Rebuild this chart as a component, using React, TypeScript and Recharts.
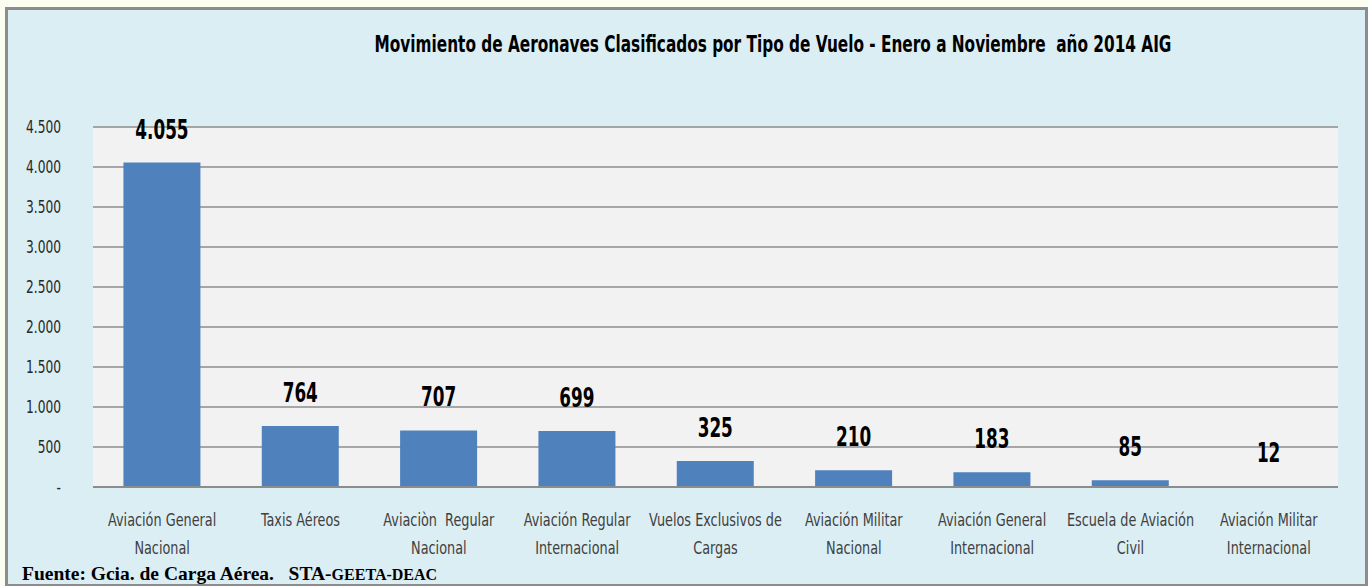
import React from 'react'
import { BarChart, Bar, XAxis, YAxis, CartesianGrid, LabelList } from 'recharts'

const categories = [
    'Aviación General\nNacional',
    'Taxis Aéreos',
    'Aviaciòn  Regular\nNacional',
    'Aviación Regular\nInternacional',
    'Vuelos Exclusivos de\nCargas',
    'Aviación Militar\nNacional',
    'Aviación General\nInternacional',
    'Escuela de Aviación\nCivil',
    'Aviación Militar\nInternacional',
]
const movements = [4055, 764, 707, 699, 325, 210, 183, 85, 12]
const yTicks = [0, 500, 1000, 1500, 2000, 2500, 3000, 3500, 4000, 4500]

const title = 'Movimiento de Aeronaves Clasificados por Tipo de Vuelo - Enero a Noviembre  año 2014 AIG'

const data = categories.map((name, i) => ({ name, value: movements[i] }))

const narrow = '"DejaVu Sans Condensed", "Liberation Sans", sans-serif'

const fmt = (v: number) => (v === 0 ? '-' : String(v).replace(/\B(?=(\d{3})+(?!\d))/g, '.'))

// squeeze text horizontally around x to mimic a narrow font
const squeeze = (x: number, k: number) => `translate(${x},0) scale(${k},1) translate(${-x},0)`

function CategoryTick(props: any) {
    const { x, y, payload } = props
    const lines = String(payload.value).split('\n')
    return (
        <text x={x} y={y + 31} textAnchor='middle' fill='#404040' fontSize={17} fontFamily={narrow} transform={squeeze(x, 0.84)}>
            {lines.map((l, i) => (
                <tspan key={i} x={x} dy={i === 0 ? 0 : 28} style={{ whiteSpace: 'pre' }}>{l}</tspan>
            ))}
        </text>
    )
}

function ValueTick(props: any) {
    const { x, y, payload } = props
    return (
        <text x={x} y={y} dy={6} textAnchor='end' fill='#262626' fontSize={17} fontFamily={narrow} transform={squeeze(x, 0.8)}>
            {fmt(payload.value)}
        </text>
    )
}

function ValueLabel(props: any) {
    const { x, y, width, value } = props
    const cx = x + width / 2
    return (
        <text x={cx} y={y - 24} textAnchor='middle' fill='#000' fontSize={26} fontWeight='bold' fontFamily={narrow} transform={squeeze(cx, 0.72)}>
            {fmt(value)}
        </text>
    )
}

export default function App() {
    return (
        <div style={{ position: 'absolute', left: 0, top: 0, width: 1368, height: 586, background: '#fbfdf0', overflow: 'hidden' }}>
            <div style={{ position: 'absolute', left: 5, top: 7, width: 1357, height: 574, border: '3px solid #8c8c8c', background: '#dbeef4' }} />
            <span style={{ position: 'absolute', left: 773, top: 29, transform: 'scaleX(0.74) translateX(-50%)', transformOrigin: '0 0', fontFamily: narrow, fontWeight: 'bold', fontSize: 23, lineHeight: '30px', color: '#000', whiteSpace: 'pre' }}>
                {title}
            </span>
            <div style={{ position: 'absolute', left: 0, top: 0 }}>
                <BarChart width={1368} height={586} data={data} margin={{ top: 127, right: 30, left: 33, bottom: 0 }} barCategoryGap='22%'>
                    <CartesianGrid vertical={false} fill='#f2f2f2' stroke='#8c8c8c' strokeWidth={1.5} />
                    <XAxis dataKey='name' height={99} interval={0} tickLine={false} axisLine={{ stroke: '#8c8c8c', strokeWidth: 2 }} tick={<CategoryTick />} />
                    <YAxis width={60} domain={[0, 4500]} ticks={yTicks} tickSize={0} tickMargin={32} axisLine={false} tickLine={false} tick={<ValueTick />} />
                    <Bar dataKey='value' fill='#4f81bd' isAnimationActive={false}>
                        <LabelList dataKey='value' content={<ValueLabel />} />
                    </Bar>
                </BarChart>
            </div>
            <div style={{ position: 'absolute', left: 22, top: 563, fontFamily: '"Liberation Serif", "Times New Roman", serif', fontWeight: 'bold', fontSize: 19.5, color: '#000', whiteSpace: 'pre' }}>
                {'Fuente: Gcia. de Carga Aérea.   STA-'}<span style={{ fontSize: 16 }}>GEETA-DEAC</span>
            </div>
        </div>
    )
}
